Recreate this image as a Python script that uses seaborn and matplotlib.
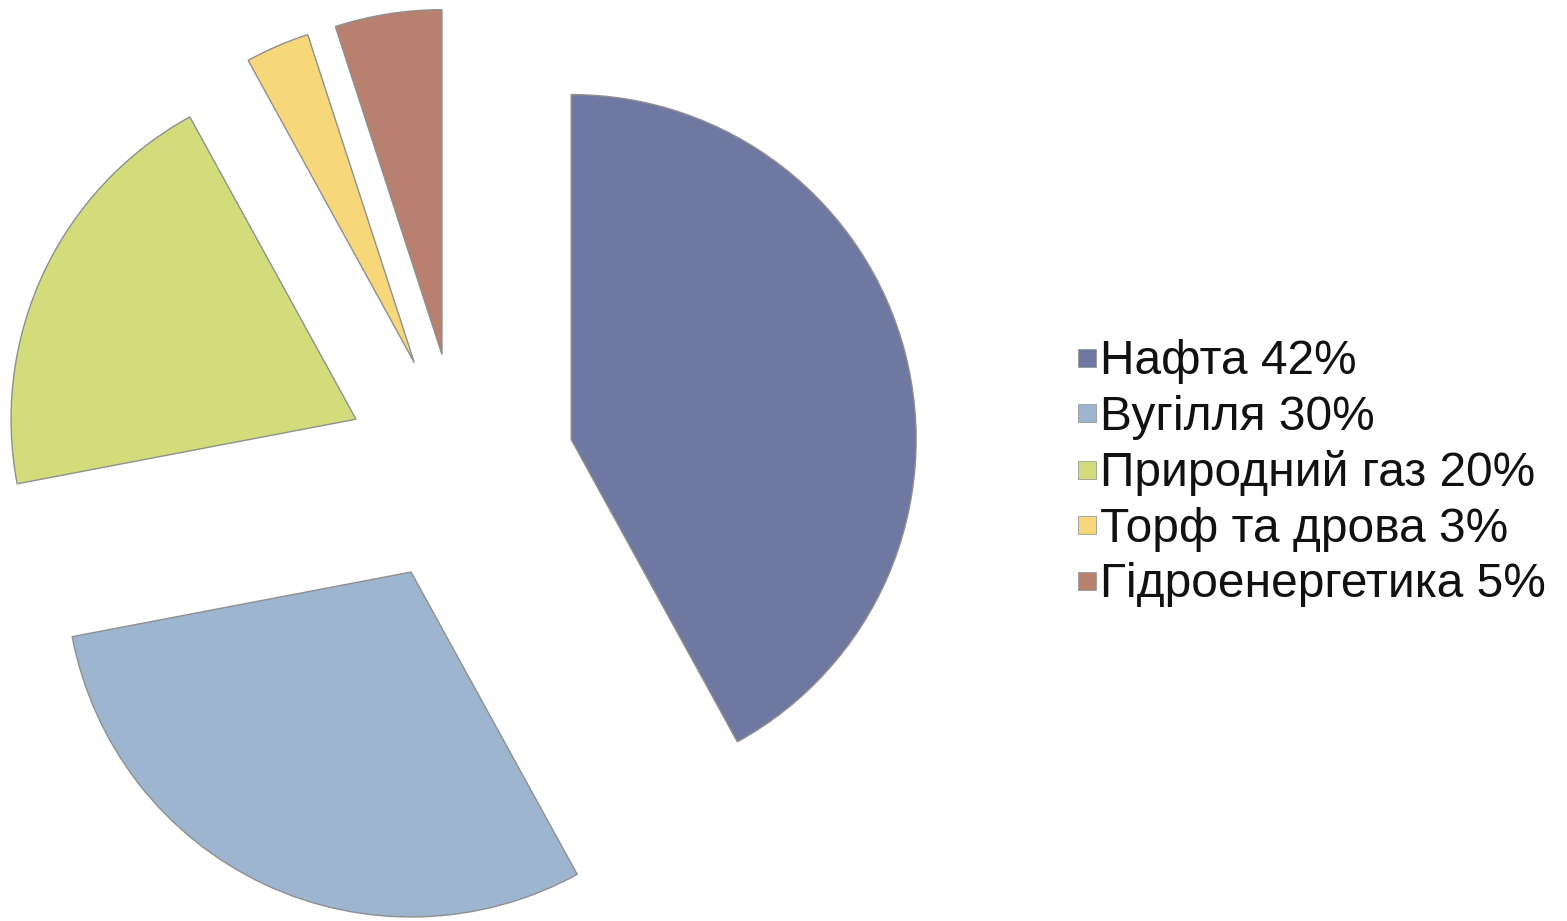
import matplotlib
matplotlib.use("Agg")
import matplotlib.pyplot as plt
from matplotlib.lines import Line2D
import seaborn as sns

categories = ["Нафта", "Вугілля", "Природний газ", "Торф та дрова", "Гідроенергетика"]
values = [42, 30, 20, 3, 5]
colors = ["#6E78A0", "#9DB5CF", "#D2DC7B", "#F6D77A", "#B8806E"]

sns.set_theme(style="white")
plt.rcParams['font.family'] = ['Liberation Sans', 'DejaVu Sans']

fig = plt.figure(figsize=(15.67, 9.21), dpi=100)
ax = fig.add_axes([0, 0, 1, 1])
ax.pie(values, colors=colors, startangle=90, counterclock=False,
       explode=[0.333] * len(values), radius=1.0,
       wedgeprops=dict(edgecolor="#8f8f8f", linewidth=1.0))
ax.set_aspect('equal')
ax.set_xlim(-1.333, 3.209)
ax.set_ylim(-1.313, 1.357)
ax.axis('off')

handles = [Line2D([0], [0], marker='s', linestyle='none', markersize=12.5,
                  markerfacecolor=c, markeredgecolor='#999999', markeredgewidth=0.6)
           for c in colors]
labels = [f"{c} {v}%" for c, v in zip(categories, values)]
fig.legend(handles, labels, loc='center left', bbox_to_anchor=(0.6865, 0.486),
           frameon=False, fontsize=34.5, handlelength=0.45, handletextpad=0.05,
           labelspacing=0.22, borderpad=0, borderaxespad=0, labelcolor='#111111')

fig.savefig("out.png", dpi=100, facecolor="white")
